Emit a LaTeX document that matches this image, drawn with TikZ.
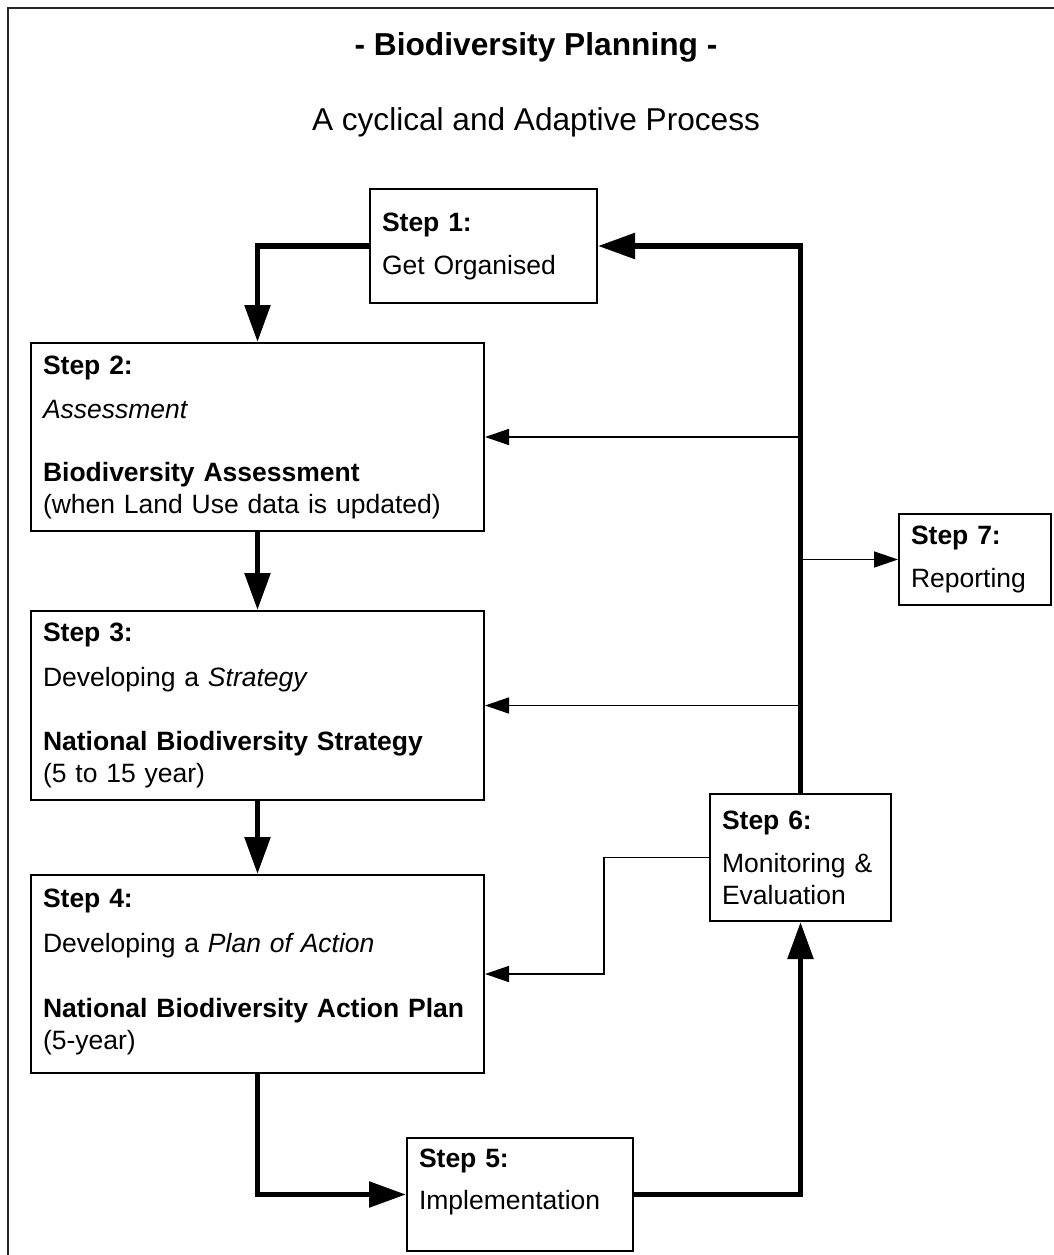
\documentclass[tikz,border=0pt]{standalone}
\usepackage{fontspec}
\setmainfont{Liberation Sans}
\usepackage{tikz}
\usetikzlibrary{arrows.meta, positioning}
\tikzset{
    stepbox/.style={rectangle, draw=black, line width=2pt, align=left, inner xsep=12pt, inner ysep=6pt, font=\fontsize{26.5pt}{32pt}\selectfont},
    mainline/.style={line width=5.5pt, -{Triangle[length=37pt, width=25pt]}},
    sideline/.style={line width=1.5pt, -{Triangle[length=24pt, width=16pt]}},
    frame/.style={line width=2pt, draw=black!85}
}

\begin{document}
\begin{tikzpicture}[x=1pt, y=-1pt]
    \useasboundingbox (0,0) rectangle (1053,1255);
    \draw [frame] (8,8) rectangle (1090,1290);

    \node (title) at (536,47) {\fontsize{31.7pt}{38pt}\selectfont\bfseries - Biodiversity Planning -};
    \node (subtitle) at (536,122) {\fontsize{31.6pt}{38pt}\selectfont A cyclical and Adaptive Process};

    \node (s1) [stepbox, text width=203pt, minimum height=114pt] at (483.5,246) {\textbf{Step 1:}\\[11pt] Get Organised};
    \node (s2) [stepbox, text width=429pt, minimum height=188pt, below=38pt of s1, xshift=-226pt] {\textbf{Step 2:}\\[12pt] \textit{Assessment}\\[31pt] \textbf{Biodiversity Assessment}\\ (when Land Use data is updated)};
    \node (s3) [stepbox, text width=429pt, minimum height=189pt, below=78pt of s2] {\textbf{Step 3:}\\[13pt] Developing a \textit{Strategy}\\[32pt] \textbf{National Biodiversity Strategy}\\ (5 to 15 year)};
    \node (s4) [stepbox, text width=429pt, minimum height=198pt, below=73pt of s3] {\textbf{Step 4:}\\[13pt] Developing a \textit{Plan of Action}\\[33pt] \textbf{National Biodiversity Action Plan}\\ (5-year)\\[-22pt]\mbox{}};
    \node (s5) [stepbox, text width=202pt, minimum height=113pt, below=63pt of s4, xshift=262.5pt] {\textbf{Step 5:}\\[10pt] Implementation\\[-2pt]\mbox{}};
    \node (s6) [stepbox, text width=157pt, minimum height=127pt] at (800.5,857.5) {\textbf{Step 6:}\\[11pt] Monitoring \&\\ Evaluation};
    \node (s7) [stepbox, text width=128pt, minimum height=91pt] at (975,559.5) {\textbf{Step 7:}\\[11pt] Reporting};

    \coordinate (j2) at (s6.north |- s2.east);
    \coordinate (j3) at (s6.north |- s3.east);
    \coordinate (j7) at (s6.north |- s7.west);

    \draw [mainline] (s1.west) -| (s2.north);
    \draw [mainline] (s2) -- (s3);
    \draw [mainline] (s3) -- (s4);
    \draw [mainline] (s4.south) |- (s5.west);
    \draw [mainline] (s5.east) -| (s6.south);
    \draw [mainline] (s6.north) |- (s1.east);
    \draw [sideline] (j2) -- (s2.east);
    \draw [sideline] (j3) -- (s3.east);
    \draw [sideline] (j7) -- (s7.west);
    \draw [sideline] (s6.west) -- ++(-105,0) |- (s4.east);
\end{tikzpicture}
\end{document}
